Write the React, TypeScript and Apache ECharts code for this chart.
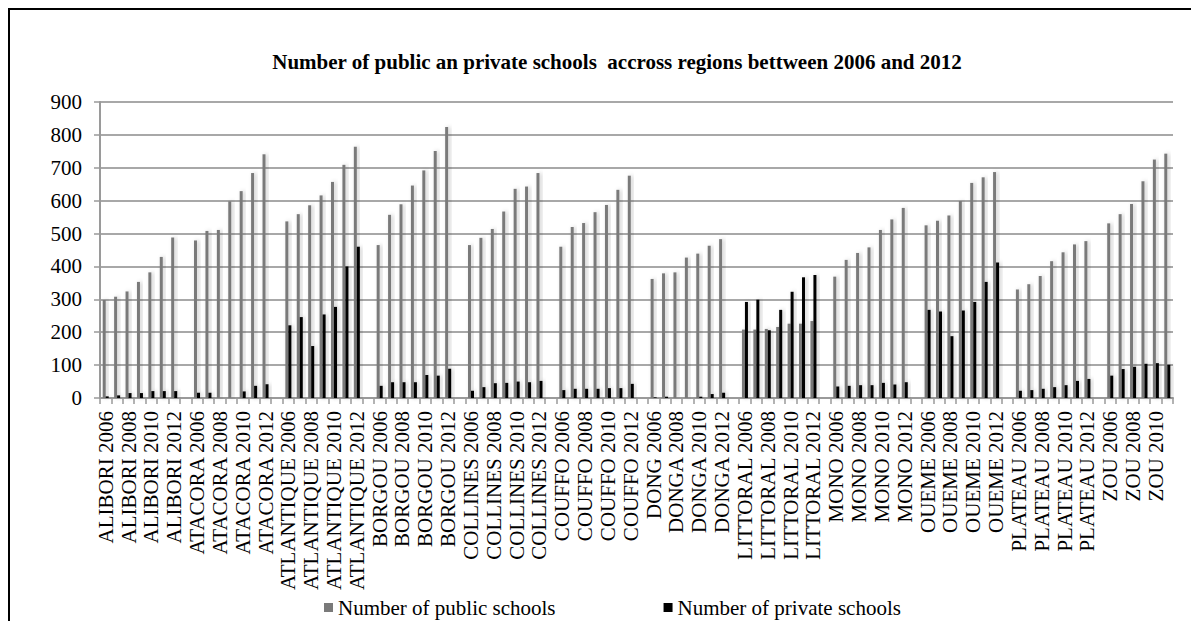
import React, { useEffect, useRef } from "react";
import * as echarts from "echarts";

// Regions and years; each region is followed by an empty spacer category.
const regions = [
  "ALIBORI", "ATACORA", "ATLANTIQUE", "BORGOU", "COLLINES", "COUFFO",
  "DONGA", "LITTORAL", "MONO", "OUEME", "PLATEAU", "ZOU",
];
const years = [2006, 2007, 2008, 2009, 2010, 2011, 2012];
const labelOverrides: Record<string, string> = { "DONGA 2006": "DONG 2006" };

// Number of public schools per region, one value per year
const publicAlibori = [298, 308, 324, 353, 382, 429, 488];
const publicAtacora = [479, 508, 511, 598, 629, 684, 741];
const publicAtlantique = [537, 559, 586, 616, 657, 709, 764];
const publicBorgou = [465, 557, 589, 646, 692, 751, 824];
const publicCollines = [465, 487, 514, 567, 636, 643, 684];
const publicCouffo = [460, 520, 532, 565, 587, 633, 676];
const publicDonga = [362, 379, 382, 427, 439, 463, 483];
const publicLittoral = [208, 208, 210, 216, 226, 226, 234];
const publicMono = [369, 420, 441, 458, 511, 543, 578];
const publicOueme = [525, 539, 555, 599, 654, 671, 687];
const publicPlateau = [330, 346, 371, 416, 443, 467, 477];
const publicZou = [531, 559, 590, 659, 725, 743];

// Number of private schools per region, one value per year
const privateAlibori = [5, 8, 15, 15, 21, 21, 21];
const privateAtacora = [16, 16, 0, 0, 20, 37, 42];
const privateAtlantique = [221, 246, 158, 254, 277, 400, 460];
const privateBorgou = [37, 48, 48, 48, 70, 68, 89];
const privateCollines = [22, 33, 45, 46, 50, 48, 52];
const privateCouffo = [24, 28, 28, 28, 30, 30, 43];
const privateDonga = [2, 4, 0, 0, 4, 12, 16];
const privateLittoral = [292, 299, 206, 268, 323, 367, 374];
const privateMono = [35, 37, 39, 39, 46, 41, 48];
const privateOueme = [268, 263, 188, 266, 292, 353, 412];
const privatePlateau = [22, 24, 28, 33, 39, 52, 58];
const privateZou = [68, 88, 95, 104, 106, 101];

const publicByRegion = [
  publicAlibori, publicAtacora, publicAtlantique, publicBorgou, publicCollines, publicCouffo,
  publicDonga, publicLittoral, publicMono, publicOueme, publicPlateau, publicZou,
];
const privateByRegion = [
  privateAlibori, privateAtacora, privateAtlantique, privateBorgou, privateCollines, privateCouffo,
  privateDonga, privateLittoral, privateMono, privateOueme, privatePlateau, privateZou,
];

const yTicks = { min: 0, max: 900, interval: 100 };

// Flatten regions into one category axis with a spacer between regions.
const categories: string[] = [];
const publicSchools: (number | null)[] = [];
const privateSchools: (number | null)[] = [];
regions.forEach((region, r) => {
  if (r > 0) {
    categories.push("");
    publicSchools.push(null);
    privateSchools.push(null);
  }
  publicByRegion[r].forEach((v, i) => {
    const name = `${region} ${years[i]}`;
    categories.push(labelOverrides[name] ?? name);
    publicSchools.push(v);
    privateSchools.push(privateByRegion[r][i]);
  });
});

const serif = "Liberation Serif";

export default function App() {
  const ref = useRef<HTMLDivElement>(null);

  useEffect(() => {
    if (!ref.current) return;
    const chart = echarts.init(ref.current, null, { renderer: "svg" });
    chart.setOption({
      animation: false,
      backgroundColor: "#ffffff",
      title: {
        text: "Number of public an private schools  accross regions bettween 2006 and 2012",
        left: 602,
        top: 36,
        textAlign: "center",
        textStyle: { fontFamily: serif, fontSize: 21, fontWeight: "bold", color: "#000" },
      },
      legend: {
        left: 309,
        top: 582,
        itemWidth: 9,
        itemHeight: 9,
        itemGap: 108,
        icon: "rect",
        textStyle: { fontFamily: serif, fontSize: 21, color: "#000" },
        data: ["Number of public schools", "Number of private schools"],
      },
      grid: { left: 90, top: 92, right: 18, bottom: 223, containLabel: false },
      xAxis: {
        type: "category",
        data: categories,
        boundaryGap: true,
        axisLine: { show: true, lineStyle: { color: "#9a9a9a", width: 2 } },
        axisTick: { show: true, interval: 0, length: 6, lineStyle: { color: "#9a9a9a", width: 1.5 } },
        axisLabel: {
          interval: 1,
          rotate: 90,
          margin: 13,
          fontFamily: serif,
          fontSize: 21,
          color: "#000",
        },
        splitLine: { show: false },
      },
      yAxis: {
        type: "value",
        min: yTicks.min,
        max: yTicks.max,
        interval: yTicks.interval,
        axisLine: { show: true, lineStyle: { color: "#9a9a9a", width: 2 } },
        axisTick: { show: true, length: 6, lineStyle: { color: "#9a9a9a", width: 1.5 } },
        axisLabel: { margin: 18, fontFamily: serif, fontSize: 21, color: "#000" },
        splitLine: { show: true, lineStyle: { color: "#a8a8a8", width: 2 } },
      },
      series: [
        {
          name: "Number of public schools",
          type: "bar",
          data: publicSchools,
          barWidth: 3,
          barGap: "0%",
          itemStyle: {
            color: "#7a7a7a",
            shadowBlur: 4,
            shadowColor: "rgba(0,0,0,0.22)",
            shadowOffsetX: 2,
          },
        },
        {
          name: "Number of private schools",
          type: "bar",
          data: privateSchools,
          barWidth: 3,
          barGap: "0%",
          itemStyle: {
            color: "#000000",
            shadowBlur: 4,
            shadowColor: "rgba(0,0,0,0.22)",
            shadowOffsetX: 2,
          },
        },
      ],
    });
    return () => chart.dispose();
  }, []);

  return (
    <div
      style={{
        width: 1183,
        height: 613,
        borderTop: "2px solid #000",
        borderLeft: "2px solid #000",
        boxSizing: "border-box",
      }}
    >
      <div ref={ref} style={{ width: 1181, height: 611 }} />
    </div>
  );
}
